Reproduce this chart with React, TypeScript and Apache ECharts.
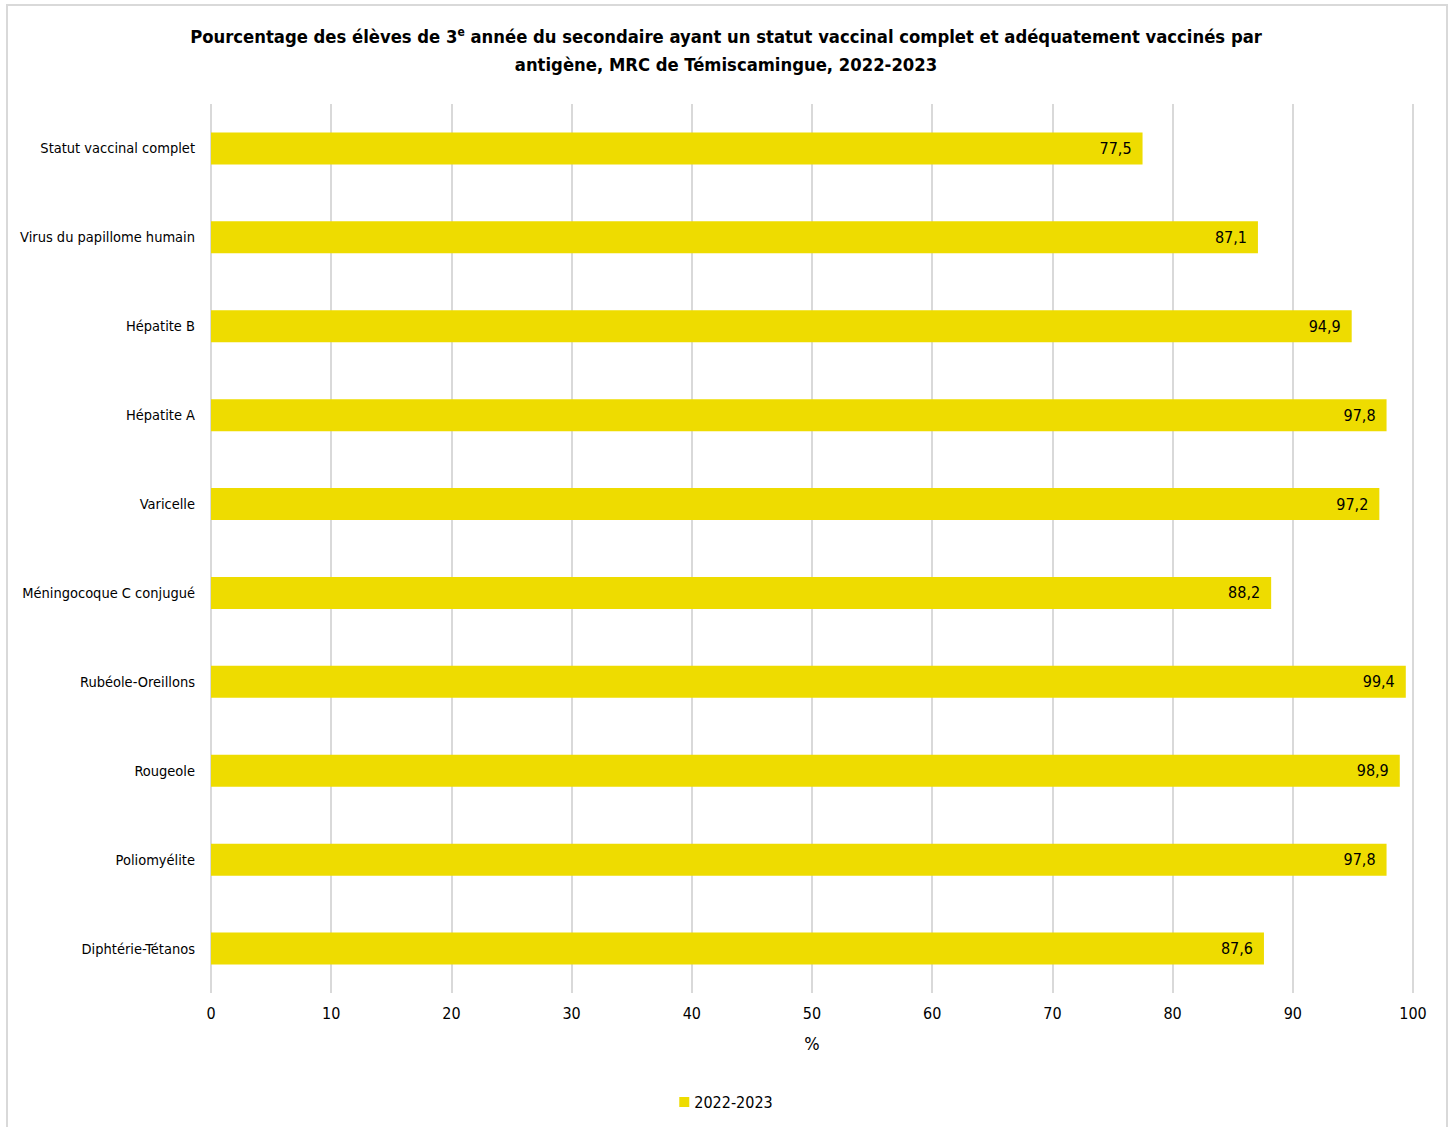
import React, { useEffect, useRef } from "react";
import * as echarts from "echarts";

const categories = [
  "Statut vaccinal complet",
  "Virus du papillome humain",
  "Hépatite B",
  "Hépatite A",
  "Varicelle",
  "Méningocoque C conjugué",
  "Rubéole-Oreillons",
  "Rougeole",
  "Poliomyélite",
  "Diphtérie-Tétanos",
];
const values2022 = [77.5, 87.1, 94.9, 97.8, 97.2, 88.2, 99.4, 98.9, 97.8, 87.6];
const seriesName = "2022-2023";
const titleLine1 =
  "Pourcentage des élèves de 3{sup|e} année du secondaire ayant un statut vaccinal complet et adéquatement vaccinés par";
const titleLine2 = "antigène, MRC de Témiscamingue, 2022-2023";

const FONT = "'Liberation Sans Narrow', 'Arial Narrow', 'DejaVu Sans Condensed', sans-serif";

const titleStyle = {
  fontFamily: FONT,
  fontSize: 18.3,
  fontWeight: "bold",
  color: "#000",
  rich: {
    sup: { fontSize: 12, fontWeight: "bold", verticalAlign: "top", padding: [0, 0, 8, 0], fontFamily: FONT, color: "#000" },
  },
};

export default function App() {
  const ref = useRef<HTMLDivElement>(null);
  useEffect(() => {
    document.body.style.margin = "0";
    const chart = echarts.init(ref.current!, null, { renderer: "svg" });
    chart.setOption({
      animation: false,
      backgroundColor: "#ffffff",
      textStyle: { fontFamily: FONT },
      graphic: [
        {
          type: "rect",
          shape: { x: 7, y: 5, width: 1440, height: 1140 },
          style: { fill: "none", stroke: "#d9d9d9", lineWidth: 2 },
          silent: true,
        },
      ],
      title: [
        { text: titleLine1, left: "center", top: 26, padding: 0, textStyle: titleStyle },
        { text: titleLine2, left: "center", top: 55, padding: 0, textStyle: titleStyle },
      ],
      legend: {
        bottom: 12,
        left: "center",
        itemWidth: 10,
        itemHeight: 10,
        itemGap: 5,
        icon: "rect",
        textStyle: { fontFamily: FONT, fontSize: 16, color: "#000" },
        data: [seriesName],
      },
      grid: { left: 211, right: 39, top: 104, bottom: 134, containLabel: false },
      xAxis: {
        type: "value",
        min: 0,
        max: 100,
        interval: 10,
        name: "%",
        nameLocation: "middle",
        nameGap: 41,
        nameTextStyle: { fontFamily: FONT, fontSize: 18, color: "#000" },
        axisLine: { show: false },
        axisTick: { show: false },
        axisLabel: { fontFamily: FONT, fontSize: 16, color: "#000", margin: 12 },
        splitLine: { show: true, lineStyle: { color: "#d9d9d9", width: 2 } },
      },
      yAxis: {
        type: "category",
        inverse: true,
        data: categories,
        axisLine: { show: false },
        axisTick: { show: false },
        axisLabel: { fontFamily: FONT, fontSize: 14.5, color: "#000", margin: 16 },
        splitLine: { show: false },
      },
      series: [
        {
          name: seriesName,
          type: "bar",
          data: values2022,
          barWidth: 32,
          itemStyle: { color: "#eedc00" },
          label: {
            show: true,
            position: "insideRight",
            distance: 11,
            fontFamily: FONT,
            fontSize: 16,
            color: "#000",
            formatter: (p: any) => String(p.value).replace(".", ","),
          },
        },
      ],
    });
    return () => chart.dispose();
  }, []);
  return <div ref={ref} style={{ width: 1452, height: 1127 }} />;
}
